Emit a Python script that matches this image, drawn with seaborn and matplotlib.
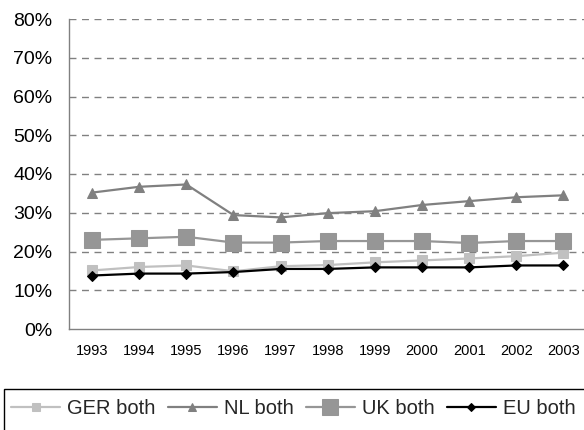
import matplotlib
matplotlib.use("Agg")
import matplotlib.pyplot as plt
import seaborn as sns
import pandas as pd
from matplotlib.patches import Rectangle
from matplotlib.ticker import PercentFormatter

years = ["1993", "1994", "1995", "1996", "1997", "1998", "1999", "2000", "2001", "2002", "2003"]
ger = [15.1, 16.0, 16.4, 14.9, 16.2, 16.5, 17.2, 17.7, 18.2, 18.8, 19.7]
nl = [35.2, 36.7, 37.3, 29.4, 28.8, 29.9, 30.4, 32.0, 33.0, 34.0, 34.5]
uk = [23.0, 23.4, 23.8, 22.3, 22.3, 22.7, 22.7, 22.7, 22.2, 22.7, 22.7]
eu = [13.8, 14.3, 14.3, 14.7, 15.5, 15.5, 15.9, 15.9, 15.9, 16.4, 16.4]
series_names = ["GER both", "NL both", "UK both", "EU both"]

sns.set_theme(style="white")
plt.rcParams["font.family"] = ["Liberation Sans", "DejaVu Sans"]

fig = plt.figure(figsize=(5.84, 4.30), dpi=100)
ax = fig.add_axes([68.5/584, 1-329/430, (587-68.5)/584, (329-19)/430])

styles = [
    (ger, "#C0C0C0", "s", 7, 6),
    (nl, "#808080", "^", 6.5, 6),
    (uk, "#969696", "s", 11.5, 11),
    (eu, "#000000", "D", 5.5, 4.5),
]
for name, (vals, col, mk, ms, _) in zip(series_names, styles):
    df = pd.DataFrame({"year": years, "val": vals})
    sns.lineplot(data=df, x="year", y="val", ax=ax, color=col, marker=mk,
                 markersize=ms, markeredgecolor=col, markerfacecolor=col,
                 linewidth=1.6, label=name, legend=False, sort=False)

ax.set_ylim(0, 80)
ax.set_xlim(-0.5, 10.5)
ax.set_yticks(range(0, 81, 10))
ax.yaxis.set_major_formatter(PercentFormatter(decimals=0))
ax.set_xlabel("")
ax.set_ylabel("")
for y in range(10, 81, 10):
    ax.axhline(y, color="#808080", linestyle=(0, (5, 4)), linewidth=1, zorder=0)
ax.grid(False)
for s in ["top", "right"]:
    ax.spines[s].set_visible(False)
for s in ["left", "bottom"]:
    ax.spines[s].set_color("#808080")
    ax.spines[s].set_linewidth(1)
ax.tick_params(axis="y", labelsize=14, length=0, pad=11.5, colors="black")
ax.tick_params(axis="x", labelsize=10.5, length=0, pad=11, colors="black")

fig.patches.append(Rectangle((4/584, -0.01), 1.0, (430-389)/430 + 0.01,
                             transform=fig.transFigure, fill=False,
                             edgecolor="#000000", linewidth=1))
handles, labels = ax.get_legend_handles_labels()
leg = fig.legend(handles, labels, loc="center left", bbox_to_anchor=(11/584, 1-409/430),
                 ncol=4, frameon=False, fontsize=14.5, handlelength=2.44,
                 handletextpad=0.35, columnspacing=0.6,
                 borderaxespad=0, borderpad=0)
for h, st in zip(leg.legend_handles, styles):
    h.set_markersize(st[4])
fig.savefig("out.png", dpi=100)
